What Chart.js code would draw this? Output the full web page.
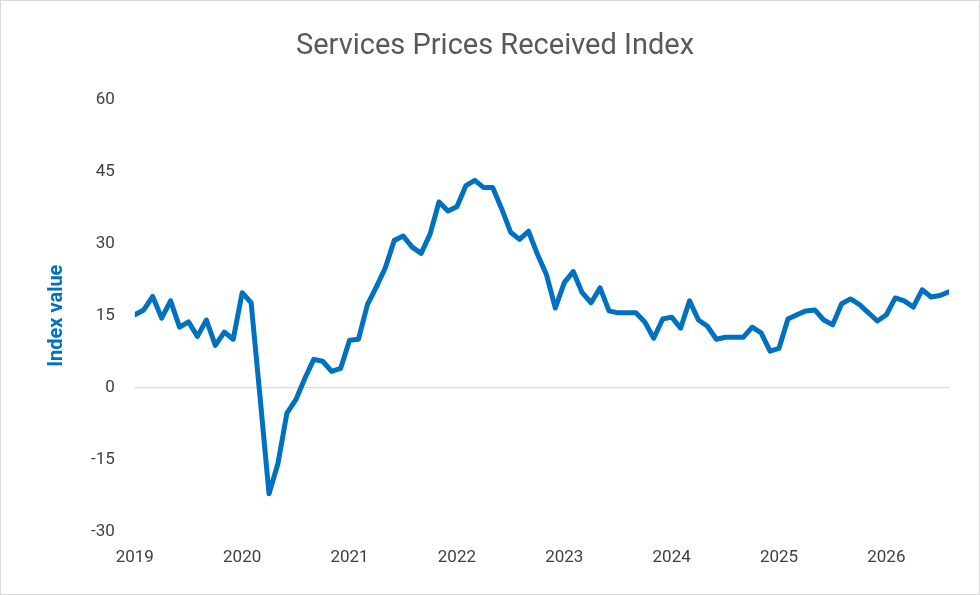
<!DOCTYPE html>
<html><head><meta charset="utf-8">
<script src="https://cdn.jsdelivr.net/npm/chart.js@4"></script>
<style>
html,body{margin:0;padding:0;background:#fff;}
#wrap{position:absolute;left:0;top:0;width:978px;height:593px;border:1px solid #d9d9d9;}
</style></head><body>
<div id="wrap"><canvas id="c"></canvas></div>
<script>
// monthly index values, Jan 2019 onward
const startYear = 2019;
const indexValues = [15.2,16.2,19,14.5,18.1,12.6,13.7,10.7,14.1,8.8,11.6,10.1,
  19.8,17.7,-2,-22.1,-15.8,-5.3,-2.5,1.9,5.9,5.5,3.4,4,
  9.9,10.1,17.3,21,25,30.7,31.6,29.3,28,32,38.7,36.8,
  37.7,42.1,43.2,41.7,41.7,37.3,32.4,30.9,32.6,27.8,23.6,16.6,
  21.9,24.2,19.8,17.7,20.8,16,15.6,15.6,15.6,13.7,10.3,14.3,
  14.7,12.4,18.1,14.1,12.8,10.1,10.5,10.5,10.5,12.6,11.4,7.6,
  8.2,14.3,15.2,16,16.2,14.1,13.1,17.5,18.5,17.3,15.6,13.9,
  15.2,18.7,18.1,16.8,20.4,18.9,19.2,20];
const yTicks = [-30,-15,0,15,30,45,60];
const yearTicks = [2019,2020,2021,2022,2023,2024,2025,2026];

const points = indexValues.map((v,i) => ({x: startYear + i/12, y: v}));

new Chart(document.getElementById('c'), {
  type: 'line',
  data: {datasets: [{data: points, borderColor: '#0070C0', borderWidth: 5,
    pointRadius: 0, tension: 0, borderJoinStyle: 'round', borderCapStyle: 'round'}]},
  options: {
    responsive: true, maintainAspectRatio: false, animation: false,
    layout: {padding: {left: 40, right: 30, top: 18, bottom: 18}},
    plugins: {
      legend: {display: false},
      tooltip: {enabled: false},
      title: {display: true, text: 'Services Prices Received Index', color: '#595959',
        font: {family: 'Roboto', size: 29, weight: 'normal'}, padding: {top: 10, bottom: 36}}
    },
    scales: {
      x: {type: 'linear', min: 2019, max: 2019 + (indexValues.length-1)/12,
        afterBuildTicks: ax => { ax.ticks = yearTicks.map(v => ({value: v})); },
        ticks: {color: '#404040', font: {family: 'Roboto', size: 17}, padding: 8,
          callback: v => String(v)},
        grid: {display: false}, border: {display: false}},
      y: {min: -30, max: 60,
        afterBuildTicks: ax => { ax.ticks = yTicks.map(v => ({value: v})); },
        ticks: {color: '#404040', font: {family: 'Roboto', size: 17}, padding: 20},
        grid: {color: ctx => ctx.tick && ctx.tick.value === 0 ? '#d9d9d9' : 'rgba(0,0,0,0)',
          lineWidth: 1.3, drawTicks: false},
        border: {display: false},
        title: {display: true, text: 'Index value', color: '#0070C0',
          font: {family: 'Roboto', size: 20, weight: 'bold'}, padding: {bottom: 2}}}
    }
  }
});
</script></body></html>
